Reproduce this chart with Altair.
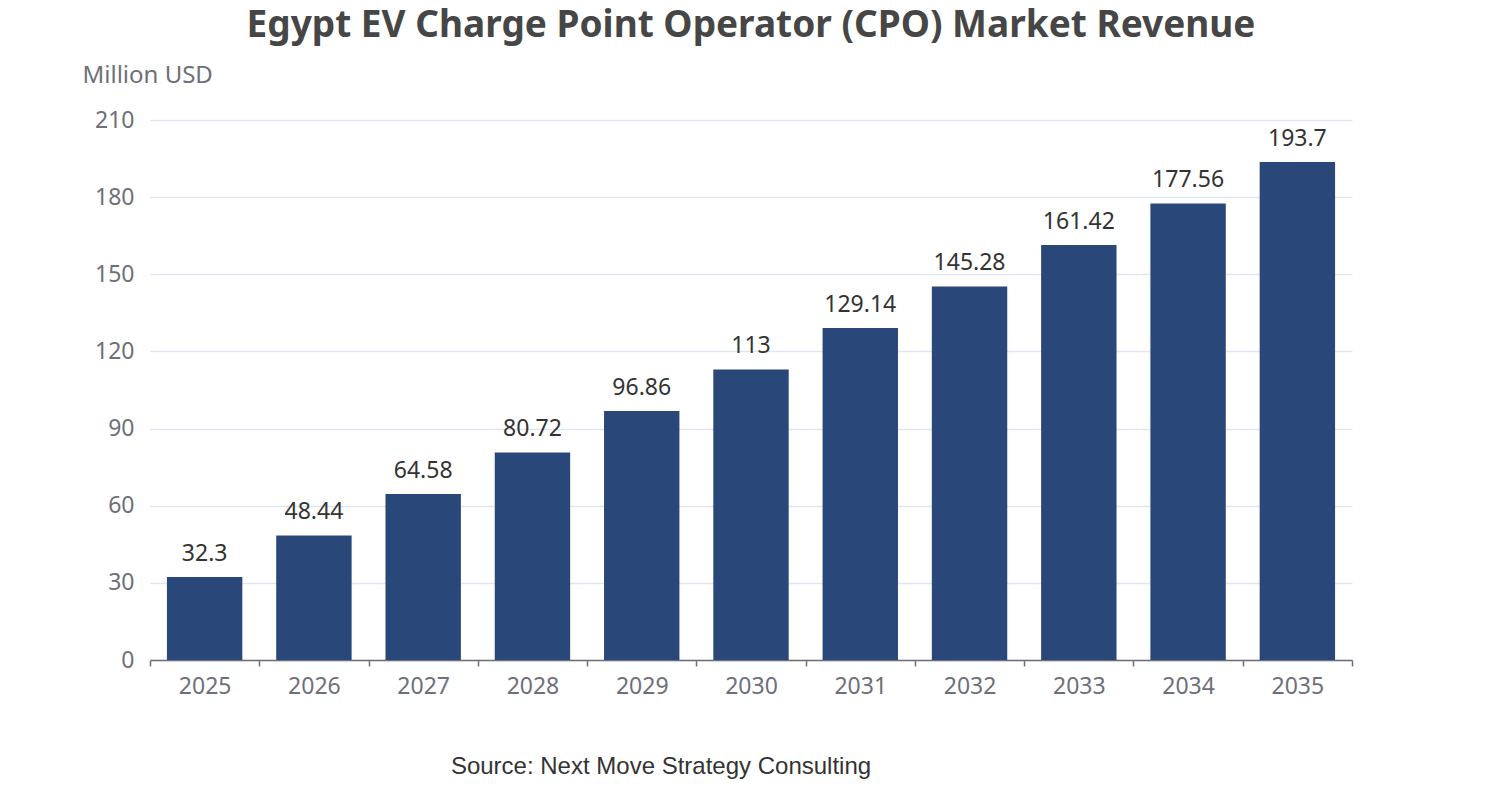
import altair as alt
import pandas as pd

years = ["2025", "2026", "2027", "2028", "2029", "2030", "2031", "2032", "2033", "2034", "2035"]
revenue = [32.3, 48.44, 64.58, 80.72, 96.86, 113, 129.14, 145.28, 161.42, 177.56, 193.7]
y_ticks = [0, 30, 60, 90, 120, 150, 180, 210]

df = pd.DataFrame({
    "year": years,
    "revenue": revenue,
    "label": [f"{v:g}" for v in revenue],
})
one = pd.DataFrame({"k": [0]})

W, H = 1202, 540
FONT = "Noto Sans"

x = alt.X("year:N", sort=years, title=None,
          scale=alt.Scale(paddingInner=0, paddingOuter=0),
          axis=alt.Axis(labelAngle=0, labelColor="#6e7079", labelFontSize=23, labelFont=FONT,
                        labelPadding=9, domainColor="#6e7079", domainWidth=1.5,
                        tickColor="#6e7079", tickSize=6, tickWidth=1.5, tickBand="extent",
                        grid=False))
y = alt.Y("revenue:Q", title="Million USD",
          scale=alt.Scale(domain=[0, 210], nice=False),
          axis=alt.Axis(values=y_ticks, labelColor="#6e7079", labelFontSize=23, labelFont=FONT,
                        labelPadding=16, domain=False, ticks=False,
                        gridColor="#e0e6f1", gridWidth=1.3,
                        titleAngle=0, titleAlign="left", titleBaseline="middle",
                        titleX=-68, titleY=-45, titleColor="#6e7079", titleFontSize=24,
                        titleFont=FONT, titleFontWeight="normal"))

bars = alt.Chart(df).mark_bar(color="#2a477a", width={"band": 0.69}).encode(x=x, y=y)

labels = alt.Chart(df).mark_text(baseline="bottom", dy=-11, fontSize=23, font=FONT,
                                 color="#333333").encode(
    x=alt.X("year:N", sort=years),
    y=alt.Y("revenue:Q"),
    text=alt.Text("label:N"),
)

title = alt.Chart(one).mark_text(fontSize=37, font=FONT, fontWeight="bold", color="#464646",
                                 align="center", baseline="alphabetic").encode(
    x=alt.value(W / 2), y=alt.value(-83),
    text=alt.value("Egypt EV Charge Point Operator (CPO) Market Revenue"),
)

source = alt.Chart(one).mark_text(fontSize=24, font="Liberation Sans", color="#333333",
                                  align="center", baseline="middle").encode(
    x=alt.value(511), y=alt.value(647),
    text=alt.value("Source: Next Move Strategy Consulting"),
)

chart = alt.layer(bars, labels, title, source).properties(
    width=W, height=H,
    autosize=alt.AutoSizeParams(type="none"),
    padding={"left": 142, "top": 112, "right": 142, "bottom": 132},
).configure(background="white").configure_view(stroke=None, strokeWidth=0)

chart.save("out.html", embed_options={"renderer": "svg", "actions": False})
